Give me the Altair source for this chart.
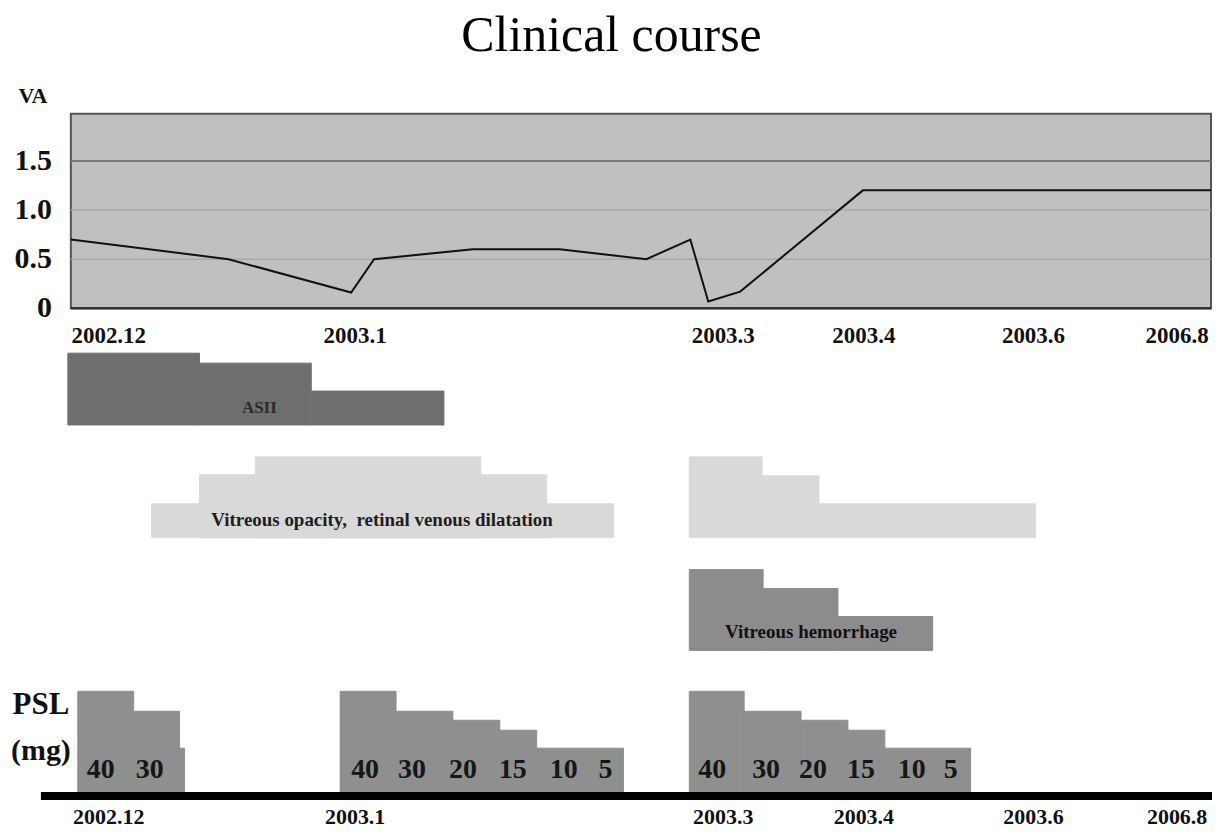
import altair as alt
import pandas as pd

FONT = "Liberation Serif"

# ---------------- data (timeline positions are schematic units along the drawn time axis) ----------------
tick_pos = [3.8, 28.5, 65.4, 79.5, 96.5, 110.9]
tick_labels = ["2002.12", "2003.1", "2003.3", "2003.4", "2003.6", "2006.8"]

va_pos = [0.0, 15.8, 28.1, 30.4, 40.3, 49.0, 57.7, 62.1, 63.9, 67.1, 79.4, 114.3]
va_val = [0.70, 0.50, 0.16, 0.50, 0.60, 0.60, 0.50, 0.70, 0.07, 0.17, 1.20, 1.20]
va_ticks = [0, 0.5, 1.0, 1.5]
va_tick_labels = ["0", "0.5", "1.0", "1.5"]

ash_start = [-0.3, 12.9, 24.1]
ash_end = [12.9, 24.1, 37.4]
ash_level = [72, 62, 34]

vit_start = [8.1, 12.9, 18.5, 62.0, 69.3, 75.0]
vit_end = [54.4, 47.7, 41.1, 69.3, 75.0, 96.7]
vit_level = [34, 63, 81, 81, 62, 34]

hem_start = [62.0, 69.4, 76.9]
hem_end = [69.4, 76.9, 86.4]
hem_level = [81, 62, 34]

psl_start = [0.7, 6.3, 10.9, 27.0, 32.6, 38.3, 43.0, 46.7, 62.0, 67.5, 73.2, 77.9, 81.6]
psl_end = [6.3, 10.9, 11.4, 32.6, 38.3, 43.0, 46.7, 55.4, 67.5, 73.2, 77.9, 81.6, 90.2]
psl_level = [101, 81, 44, 101, 81, 72, 62, 44, 101, 81, 72, 62, 44]

dose_pos = [3.0, 7.9, 29.5, 34.2, 39.3, 44.3, 49.4, 53.6, 64.3, 69.7, 74.4, 79.2, 84.3, 88.2]
dose_text = ["40", "30", "40", "30", "20", "15", "10", "5", "40", "30", "20", "15", "10", "5"]

# ---------------- tables ----------------
ticks_df = pd.DataFrame({"pos": tick_pos, "lab": tick_labels})
va_df = pd.DataFrame({"pos": va_pos, "va": va_val})
va_tick_df = pd.DataFrame({"v": va_ticks, "lab": va_tick_labels})
ash_df = pd.DataFrame({"s": ash_start, "e": ash_end, "h": ash_level})
vit_df = pd.DataFrame({"s": vit_start, "e": vit_end, "h": vit_level})
hem_df = pd.DataFrame({"s": hem_start, "e": hem_end, "h": hem_level})
psl_df = pd.DataFrame({"s": psl_start, "e": psl_end, "h": psl_level})
dose_df = pd.DataFrame({"pos": dose_pos, "lab": dose_text})
one = pd.DataFrame({"k": [0]})

W = 1207
XS = alt.Scale(domain=[-6.3, 114.4], nice=False, zero=False)
PLOT_END = 114.3   # right edge of the VA plot frame (timeline units)
VA_TOP = 1.98      # top of the VA plot frame


def X(f):
    return alt.X(f, type="quantitative", scale=XS, axis=None)


def Y(f, ys):
    return alt.Y(f, type="quantitative", scale=ys, axis=None)


def label(text, px, py, size, color="#111", weight="bold", align="center"):
    return alt.Chart(pd.DataFrame({"t": [text]})).mark_text(
        font=FONT, fontSize=size, fontWeight=weight, color=color, align=align, baseline="middle"
    ).encode(x=alt.value(px), y=alt.value(py), text="t:N")


def blocks(df, ys, color):
    return alt.Chart(df).mark_rect(color=color, stroke=color, strokeWidth=1).transform_calculate(
        base="0").encode(x=X("s"), x2="e:Q", y=Y("base", ys), y2="h:Q")


# ---------------- Panel A : visual acuity ----------------
YA = alt.Scale(domain=[-0.426, 2.416], nice=False, zero=False)
frame = alt.Chart(one).mark_rect(fill="#c0c0c0", stroke="#555555", strokeWidth=2).transform_calculate(
    x0="0", x1=str(PLOT_END), y0="0", y1=str(VA_TOP)
).encode(x=X("x0"), x2="x1:Q", y=Y("y0", YA), y2="y1:Q")
grid_light = alt.Chart(pd.DataFrame({"v": va_ticks[1:3]})).mark_rule(
    color="#a8a8a8", strokeWidth=1.5).transform_calculate(x0="0", x1=str(PLOT_END)).encode(
    x=X("x0"), x2="x1:Q", y=Y("v", YA))
grid_dark = alt.Chart(pd.DataFrame({"v": va_ticks[3:]})).mark_rule(
    color="#7a7a7a", strokeWidth=2).transform_calculate(x0="0", x1=str(PLOT_END)).encode(
    x=X("x0"), x2="x1:Q", y=Y("v", YA))
base_line = alt.Chart(pd.DataFrame({"v": va_ticks[:1]})).mark_rule(
    color="#333333", strokeWidth=2.5).transform_calculate(x0="0", x1=str(PLOT_END)).encode(
    x=X("x0"), x2="x1:Q", y=Y("v", YA))
va_line = alt.Chart(va_df).mark_line(color="#111111", strokeWidth=2).encode(x=X("pos"), y=Y("va", YA))
va_ylabels = alt.Chart(va_tick_df).mark_text(
    font=FONT, fontSize=30, fontWeight="bold", color="#111", align="right", baseline="middle"
).encode(x=alt.value(44), y=Y("v", YA), text="lab:N")
top_xlabels = alt.Chart(ticks_df).mark_text(
    font=FONT, fontSize=23, fontWeight="bold", color="#111", align="center", baseline="middle"
).encode(x=X("pos"), y=alt.value(266), text="lab:N")
panelA = alt.layer(frame, grid_light, grid_dark, base_line, va_line, va_ylabels, top_xlabels,
                   label("VA", 25, 25, 22)).properties(width=W, height=280)

# ---------------- Panel B : ASII ----------------
YB = alt.Scale(domain=[-15, 75], nice=False, zero=False)
panelB = alt.layer(blocks(ash_df, YB, "#6e6e6e"),
                   label("ASII", 252, 58, 17, color="#2a2a2a")).properties(width=W, height=90)

# ---------------- Panel C : vitreous opacity ----------------
YC = alt.Scale(domain=[-7, 98], nice=False, zero=False)
panelC = alt.layer(blocks(vit_df, YC, "#d9d9d9"),
                   label("Vitreous opacity,\u2002retinal venous dilatation", 375, 80, 19, color="#1e1e1e")
                   ).properties(width=W, height=105)

# ---------------- Panel D : vitreous hemorrhage ----------------
YDs = alt.Scale(domain=[-9, 106], nice=False, zero=False)
panelD = alt.layer(blocks(hem_df, YDs, "#8c8c8c"),
                   label("Vitreous hemorrhage", 805, 88, 19, color="#111")).properties(width=W, height=115)

# ---------------- Panel E : PSL ----------------
YE = alt.Scale(domain=[-33, 133], nice=False, zero=False)
bar = alt.Chart(one).mark_rect(color="#000000").transform_calculate(
    x0="-3.0", x1="114.4", y0="0", y1="-8").encode(x=X("x0"), x2="x1:Q", y=Y("y0", YE), y2="y1:Q")
doses = alt.Chart(dose_df).mark_text(
    font=FONT, fontSize=28, fontWeight="bold", color="#161616", align="center", baseline="middle"
).encode(x=X("pos"), y=alt.value(111), text="lab:N")
bottom_xlabels = alt.Chart(ticks_df).mark_text(
    font=FONT, fontSize=22, fontWeight="bold", color="#111", align="center", baseline="middle"
).encode(x=X("pos"), y=alt.value(158), text="lab:N")
panelE = alt.layer(blocks(psl_df, YE, "#8f8f8f"), bar, doses, bottom_xlabels,
                   label("PSL", 33, 46, 31), label("(mg)", 33, 92, 30)).properties(width=W, height=166)

chart = alt.vconcat(panelA, panelB, panelC, panelD, panelE, spacing=0).properties(
    title=alt.TitleParams("Clinical course", font=FONT, fontSize=50, fontWeight="normal",
                          color="#000", anchor="middle", offset=10),
    padding={"top": 2, "left": 0, "right": 0, "bottom": 0},
    background="white",
).configure_view(stroke=None).configure_concat(spacing=0).configure_title(font=FONT)

chart.save("out.html", embed_options={"renderer": "svg", "actions": False})
